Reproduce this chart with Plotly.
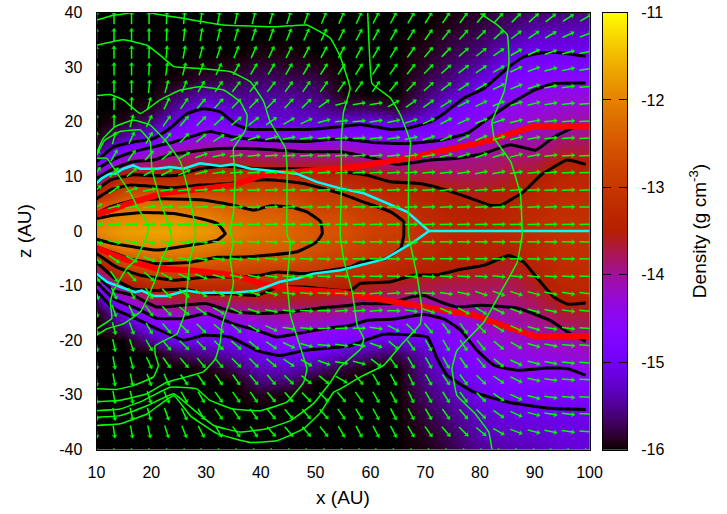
import math
import numpy as np
import plotly.graph_objects as go

FONT = "Liberation Sans, Arial, sans-serif"
x_ticks = [10, 20, 30, 40, 50, 60, 70, 80, 90, 100]
z_ticks = [-40, -30, -20, -10, 0, 10, 20, 30, 40]
z_tick_text = ["-40", "-30", "-20", "-10", "0", "10", "20", "30", "40"]
cb_ticks = [-16, -15, -14, -13, -12, -11]
cb_tick_text = ["-16", "-15", "-14", "-13", "-12", "-11"]

# density grid: columns at x = 10, 15 ... 100; rows at z = 40, 37.5 ... -40
grid_x = [10, 15, 20, 25, 30, 35, 40, 45, 50, 55, 60, 65, 70, 75, 80, 85, 90, 95, 100]
grid_z = [40, 37.5, 35, 32.5, 30, 27.5, 25, 22.5, 20, 17.5, 15, 12.5, 10, 7.5, 5, 2.5, 0,
          -2.5, -5, -7.5, -10, -12.5, -15, -17.5, -20, -22.5, -25, -27.5, -30, -32.5, -35, -37.5, -40]
rho_x010 = [-16,-16,-16,-16,-16,-16,-16,-16,-16,-16,-15.6,-14.95,-14.1,-13.5,-12.8,-12.15,-11.95,-12.3,-13.25,-13.9,-14.65,-15.5,-16,-16,-16,-16,-16,-16,-16,-16,-16,-16,-16]
rho_x015 = [-16,-16,-16,-16,-16,-16,-16,-16,-15.9,-15.5,-14.8,-14.1,-13.35,-12.8,-12.3,-11.95,-11.75,-11.95,-12.5,-13.1,-13.7,-14.35,-15,-15.6,-16,-16,-16,-16,-16,-16,-16,-16,-16]
rho_x020 = [-16,-16,-16,-16,-16,-16,-16,-15.9,-15.6,-15.1,-14.4,-13.9,-13.4,-12.75,-12.2,-11.9,-11.7,-11.9,-12.3,-12.8,-13.3,-13.8,-14.3,-14.9,-15.5,-16,-16,-16,-16,-16,-16,-16,-16]
rho_x025 = [-16,-16,-16,-16,-16,-15.95,-15.7,-15.4,-15,-14.6,-14.15,-13.75,-13.3,-12.85,-12.25,-11.9,-11.7,-11.9,-12.25,-12.75,-13.25,-13.7,-14.1,-14.65,-15,-15.7,-16,-16,-16,-16,-16,-16,-16]
rho_x030 = [-16,-16,-16,-16,-15.95,-15.8,-15.4,-15,-14.75,-14.45,-14,-13.65,-13.25,-12.8,-12.3,-12,-11.8,-12,-12.35,-12.75,-13.25,-13.75,-14.35,-14.75,-15.1,-15.5,-15.95,-16,-16,-16,-16,-16,-16]
rho_x035 = [-16,-16,-16,-16,-15.9,-15.75,-15.55,-15.3,-15.05,-14.55,-14,-13.6,-13.2,-12.85,-12.5,-12.25,-12.05,-12.25,-12.5,-12.85,-13.25,-13.7,-14.15,-14.6,-15,-15.35,-15.7,-16,-16,-16,-16,-16,-16]
rho_x040 = [-16,-16,-16,-15.95,-15.8,-15.65,-15.5,-15.35,-15.2,-14.7,-14,-13.65,-13.1,-12.8,-12.55,-12.35,-12.2,-12.35,-12.55,-12.9,-13.25,-13.65,-14,-14.45,-14.75,-15.05,-15.3,-15.6,-15.9,-16,-16,-16,-16]
rho_x045 = [-16,-16,-16,-15.95,-15.85,-15.7,-15.5,-15.35,-15.2,-14.75,-14.05,-13.75,-13.2,-12.85,-12.6,-12.4,-12.3,-12.4,-12.55,-12.95,-13.3,-13.65,-13.95,-14.25,-14.55,-14.95,-15.3,-15.65,-16,-16,-16,-16,-16]
rho_x050 = [-16,-16,-16,-16,-15.9,-15.75,-15.6,-15.45,-15.25,-14.75,-14.1,-13.7,-13.35,-13,-12.85,-12.65,-12.5,-12.55,-12.75,-13,-13.35,-13.65,-13.95,-14.3,-14.65,-15,-15.55,-16,-16,-16,-16,-16,-16]
rho_x055 = [-16,-16,-16,-16,-16,-16,-15.95,-15.7,-15.2,-14.65,-14.1,-13.7,-13.4,-13.1,-12.85,-12.7,-12.6,-12.7,-12.9,-13.2,-13.45,-13.75,-14,-14.45,-14.85,-15.3,-15.8,-16,-16,-16,-16,-16,-16]
rho_x060 = [-16,-16,-16,-16,-16,-16,-16,-15.7,-15.1,-14.7,-14.25,-13.85,-13.5,-13.25,-13,-12.9,-12.8,-12.9,-13,-13.25,-13.55,-13.85,-14.25,-14.65,-15,-15.55,-16,-16,-16,-16,-16,-16,-16]
rho_x065 = [-16,-16,-16,-16,-16,-16,-16,-15.85,-15.3,-14.75,-14.35,-14,-13.65,-13.4,-13.2,-13,-12.9,-13,-13.2,-13.4,-13.65,-13.9,-14.3,-14.75,-15.2,-15.7,-16,-16,-16,-16,-16,-16,-16]
rho_x070 = [-16,-16,-15.95,-15.9,-15.85,-15.75,-15.65,-15.45,-15.1,-14.7,-14.25,-13.95,-13.65,-13.45,-13.35,-13.25,-13.2,-13.25,-13.35,-13.5,-13.7,-14,-14.4,-14.75,-15.05,-15.3,-15.45,-15.55,-15.65,-15.75,-15.85,-15.9,-15.95]
rho_x075 = [-15.95,-15.9,-15.8,-15.75,-15.65,-15.55,-15.3,-14.95,-14.75,-14.5,-14.2,-13.95,-13.75,-13.55,-13.45,-13.4,-13.35,-13.4,-13.45,-13.55,-13.75,-13.9,-14.3,-14.6,-14.7,-14.85,-15,-15.2,-15.35,-15.5,-15.6,-15.7,-15.75]
rho_x080 = [-15.85,-15.8,-15.7,-15.6,-15.4,-15.15,-14.9,-14.75,-14.5,-14.3,-14.05,-13.9,-13.75,-13.6,-13.5,-13.45,-13.35,-13.4,-13.45,-13.6,-13.75,-13.9,-14.1,-14.25,-14.45,-14.6,-14.75,-14.9,-15.05,-15.2,-15.3,-15.4,-15.5]
rho_x085 = [-15.75,-15.65,-15.45,-15.2,-15,-14.85,-14.65,-14.45,-14.3,-14.15,-13.95,-13.8,-13.65,-13.5,-13.4,-13.35,-13.3,-13.4,-13.55,-13.65,-13.8,-13.9,-14.05,-14.15,-14.25,-14.4,-14.5,-14.7,-14.9,-15.1,-15.2,-15.3,-15.4]
rho_x090 = [-15.65,-15.45,-15.2,-15,-14.8,-14.65,-14.45,-14.35,-14.25,-14.1,-14,-13.75,-13.5,-13.4,-13.3,-13.25,-13.2,-13.3,-13.35,-13.5,-13.6,-13.75,-13.9,-14.05,-14.2,-14.35,-14.5,-14.65,-14.85,-15,-15.15,-15.25,-15.35]
rho_x095 = [-15.6,-15.4,-15.2,-15,-14.75,-14.55,-14.4,-14.25,-14.1,-13.95,-13.7,-13.45,-13.35,-13.25,-13.2,-13.15,-13.1,-13.15,-13.2,-13.25,-13.35,-13.5,-13.65,-13.85,-14.1,-14.3,-14.5,-14.65,-14.8,-15,-15.1,-15.15,-15.2]
rho_x100 = [-15.55,-15.35,-15.15,-15,-14.8,-14.55,-14.35,-14.2,-14.05,-13.9,-13.7,-13.55,-13.35,-13.25,-13.2,-13.15,-13.1,-13.15,-13.2,-13.25,-13.3,-13.45,-13.65,-13.8,-14,-14.2,-14.4,-14.6,-14.8,-15,-15.1,-15.15,-15.2]
rho_columns = [rho_x010, rho_x015, rho_x020, rho_x025, rho_x030, rho_x035, rho_x040, rho_x045, rho_x050, rho_x055,
               rho_x060, rho_x065, rho_x070, rho_x075, rho_x080, rho_x085, rho_x090, rho_x095, rho_x100]

# black density contours, upper and lower half
c150u_x = [10,13.1,16.7,20.4,23.4,26.5,29.5,32.6,35.6,38.1,42.9,48.4,54.5,58.2,63.7,66.7,71,73.4,77,80.7,85,88,91,94.1,99.3]
c150u_z = [12.7,15.4,16.3,16.9,18.8,21.5,22.4,21.8,19.4,18.6,18.6,18.6,19.1,19.5,18.6,18.8,20,21.5,24.3,26.1,29.8,31.9,32.6,32.7,32]
c145u_x = [10,13.1,16.7,20.4,24.1,27.1,30.7,35,40.5,48.4,54.5,60.6,66.7,72.8,77.7,80.7,85,89.9,93.5,99.3]
c145u_z = [11.3,13.1,14.5,15.4,16.3,17.2,18.2,17.2,16.6,16.4,16.9,16.2,16,16.6,17.9,20,23,25.8,27,27.1]
c140u_x = [10,13.1,16.7,20.4,23.4,27.1,32.6,37.5,42.9,48.4,54.5,60.6,64.9,71,75.8,80.7,85.6,90.2,93.5,97.2,99.3]
c140u_z = [9.6,11.4,12.7,13,13.9,14.5,15.1,15.1,14.8,14.5,14.5,13.3,12.2,13,13.3,14.2,15.8,14.8,17.2,19,19.2]
c135u_x = [10,12.5,16.7,21,24.7,28.9,33.2,39.3,47.8,54.5,59.4,63.7,69.1,72.8,77.7,81.9,83.8,88,91.1,95.9,99.3]
c135u_z = [7.5,9.3,10.3,10.1,10.2,11.4,11.9,11.4,11.4,10.9,10.2,9,8.7,7.8,6.2,4.7,4.7,7.2,10.2,13,12.2]
c130_x = [10,12.5,16.1,24.1,28.9,34.4,38.7,42.9,47.8,54.5,58.8,63.7,66.1,66.1,66.1,65.5,62.7,58.2,56.3,47.8,42.9,39.9,35,30.1,24.1,18,13.7,10]
c130_z = [5.9,7.5,8.4,7.9,8.4,8.7,9.3,9.3,8.7,6.9,5.3,3.5,1.7,0,-0.8,-3.2,-5.1,-5.7,-6.6,-7.8,-7.5,-8.1,-8.4,-8.4,-9,-8.1,-6.6,-4.1]
c125_x = [10,12.5,16.7,22.2,30.1,35,38.7,41.7,45.4,48.4,50.9,51.2,51.2,50.2,46.6,40.5,35,32,27.1,21,16.1,12.5,10]
c125_z = [3.2,4.4,5.6,5.9,5.6,4.7,3.8,4.6,4.4,3.5,1.7,0,-0.5,-2,-3.8,-4.5,-4.8,-4.8,-5.7,-6,-5.1,-3.8,-2.9]
c120_x = [10,13.1,18.6,24.1,28.9,32,33.2,33.5,32,27.1,21,16.7,13.1,10]
c120_z = [2.3,2.9,3.4,3.2,2.3,1.4,0,-0.5,-1.7,-2.6,-3.5,-2.9,-2.3,-1.5]
c135l_x = [10,13.7,16.7,21,25.9,30.1,35,39.3,43,48.4,56.3,58.2,63.7,67.9,72.2,76.5,80.7,85.3,88,90.5,93.5,96,99.3]
c135l_z = [-5.7,-9,-10.6,-10.9,-10.6,-11.5,-11.5,-11.8,-10.3,-10.3,-10.9,-9.6,-9.3,-8.1,-8,-7,-6.3,-4.5,-5.7,-8.7,-12.1,-13.4,-13.2]
c140l_x = [10,13.1,16.7,21,25.9,30.1,35,40.5,45.4,51.5,56.3,58.2,63.7,67.3,69.8,72.8,75.8,80.1,86.8,92.9,96,99.3]
c140l_z = [-8.1,-10.9,-11.8,-13.9,-13.6,-13.3,-14.8,-15.1,-14.8,-14,-13.6,-13.3,-13.3,-12.1,-11.8,-13,-13.9,-13.6,-14.1,-16.4,-18.5,-20.2]
c145l_x = [10,13.1,17.4,21,25.9,30.1,35,39.3,42.9,46.6,51.5,56.3,59.4,64.3,69.8,73.4,76.5,79.5,82.6,86.8,92.3,96,99.3]
c145l_z = [-9.3,-12.4,-14.2,-16,-16,-15.1,-17,-18.2,-19.4,-18.8,-17.9,-17.3,-16.4,-16.1,-15.3,-16.1,-18.2,-21.9,-24.6,-25.5,-25.1,-25.2,-26.4]
c150l_x = [10,13.1,18,21,25.9,29.5,34.4,39.3,43.5,47.8,56.3,58.2,62.4,66.7,70.4,72.2,74,78.9,85,92.3,99.3]
c150l_z = [-10.9,-14.2,-16.4,-17.9,-20,-19.1,-19.4,-21.9,-22.8,-21.9,-21,-20.3,-18.9,-19,-19.4,-23.4,-26.4,-29.5,-31.3,-32.4,-32.7]
black_lines = [(c150u_x,c150u_z),(c145u_x,c145u_z),(c140u_x,c140u_z),(c135u_x,c135u_z),(c130_x,c130_z),(c125_x,c125_z),
               (c120_x,c120_z),(c135l_x,c135l_z),(c140l_x,c140l_z),(c145l_x,c145l_z),(c150l_x,c150l_z)]

# red lines
red_u_x = [10,13.1,16.7,22.2,30.1,35,41,45.4,51.5,54.5,66.7,74.6,81.9,89.9,100]
red_u_z = [3,4.1,5.3,6.9,7.8,8.4,10.5,10.8,11.1,11.4,13.3,15.1,16.6,19.2,19.2]
red_l_x = [10,14.9,21,27.1,35,39.9,45.4,54.5,69.8,78.9,85,89.9,100]
red_l_z = [-3.1,-5.1,-6.9,-7.2,-8.1,-9.6,-10.6,-11.2,-13.9,-15.4,-17.6,-19.2,-19.2]

# cyan lines
cyan_u_x = [10,10.9,11.9,12.5,13.4,14.9,16.7,18,21,23.4,25.9,28.9,32.6,35,38.1,41.7,46.6,50.2,54.5,58.8,66.7,70.7,100]
cyan_u_z = [8.7,9.6,10.2,10.5,10.5,11.4,12,11.4,11.4,11.7,11.4,12.4,11.9,12.2,11.4,11,10.5,9,7.8,6.9,3.5,0,0]
cyan_l_x = [10,11.9,14.3,17,18.3,20.4,22.8,26.5,28.9,35,39.3,43.5,46.6,49.6,54.5,62.7,67.9,70.7]
cyan_l_z = [-7.8,-9.3,-10.2,-11.2,-10.9,-11.9,-11.9,-10.9,-11.3,-11.3,-10.9,-9.3,-8.7,-7.8,-7.2,-5.1,-2,0]

# green field lines
g1_x = [10,11.9,14,16.4,17.6,19.5,19.2,17.3,15.5,13.1,12.5,12.8,10]
g1_z = [13.3,13.3,10.2,6.6,4.1,1.05,-0.8,-5.1,-6.9,-10.9,-13,-16,-17.9]
g2_x = [10,11.5,14.3,18,19.8,20.1,20.7,21.9,23.4,23.7,21.9,21,19.8,18,14.9,11.9,10]
g2_z = [13.9,16.6,18.2,18.5,16.3,11.4,9,4.7,0.4,-1.4,-5.1,-8.1,-11.2,-14.8,-17,-17.9,-19.1]
g3_x = [10,11.2,13.4,16.7,19.8,22.8,25.3,26.8,28,28,27.1,26.5,26.2,24.7,20.7,20.7,21.3,20.4,16.7,13.7,10]
g3_z = [14.2,16.9,19.1,20.3,19.4,16.3,12.7,7.2,0.8,-1.4,-5.1,-11.2,-14.8,-18.8,-21,-22.5,-24.6,-26.7,-28.3,-29,-28.9]
g4_x = [10,12.5,14.9,18,21.6,25.3,28.9,33.2,36.2,37.5,37.2,35,35.3,35,34.4,35,34.4,35,34.4,32.9,32.6,31.7,29.5,22.8,19.2,14.3,10]
g4_z = [24.8,25,24,21.5,24,25.8,26.4,25.8,23.7,21.2,18.5,15.1,9.6,3.5,-0.2,-2,-5,-9.3,-12.4,-17.3,-20.3,-23.4,-25.8,-27.7,-29.8,-31,-31.3]
g5_x = [10,14.9,19.2,21.6,24.1,28.3,34.4,38.1,40.5,41.7,44.5,44.8,44.8,45.4,44.8,45.4,46.9,48.4,47.8,44.8,39.9,35,30.7,28.3,23.4,18.6,14.3,10]
g5_z = [34,35,34,32.2,30.1,29.8,29.2,27.3,23.7,20,15.1,10.8,-0.8,-2,-9.3,-15.4,-20.3,-25.2,-27.7,-31.3,-32.9,-32.6,-31,-28.9,-28.6,-31,-32.6,-32.9]
g6_x = [10,13.1,15.5,17.6,20.4,25.9,33.2,42.9,48.4,52.7,54.5,56.3,55.1,54.7,54.7,54.5,55.1,56.7,57.6,58.8,58.2,54.5,52.7,49.6,45.4,41.1,36.2,31.4,27.1,24.1,19.2,14.3,10]
g6_z = [38.6,39.5,39.8,40.5,39.8,38.9,37.7,37.4,37.7,35.3,31.9,26.1,21.8,17,7.8,-0.8,-5.1,-11.2,-17.3,-19.7,-21.6,-24.9,-27.7,-31.6,-34.7,-36.2,-36.8,-35.6,-32.2,-29.8,-32,-33.8,-34.1]
g7_x = [59.5,59.7,60.3,63.7,65.5,67.3,67,67,68.5,69.4,69.1,65.5,62.4,58.2,54.5,53.3,50.9,47.8,42.9,38.1,32,27.1,24.1,19.2,14.3,10]
g7_z = [40.2,35.3,27,24.3,21.2,16.3,12,-0.8,-8.1,-14.2,-17,-21,-24.6,-26.7,-28.9,-29.5,-33.2,-36.2,-38.4,-38.7,-37.1,-33.8,-30.1,-33.5,-35.3,-35.6]
g8_x = [80.1,83.2,85,85.3,84.4,82.2,82.6,85.6,87.4,87.7,86.8,83.8,80.7,75.8,74.9,75.8,78.9,81.6,82.2]
g8_z = [39.8,37.7,35.9,31,25.5,20,17,12.7,6.6,-0.8,-5.7,-11.2,-16.7,-21.9,-25.2,-30.1,-33.2,-36.8,-40]
green_lines = [(g1_x,g1_z),(g2_x,g2_z),(g3_x,g3_z),(g4_x,g4_z),(g5_x,g5_z),(g6_x,g6_z),(g7_x,g7_z),(g8_x,g8_z)]

# arrows: position grid and direction in degrees, read row by row from the top
arrow_x = [10,13.2,16.4,19.6,22.8,26,29.1,32.3,35.5,38.7,41.9,45.1,48.3,51.5,54.7,57.9,61,64.2,67.4,70.6,73.8,77,80.2,83.4,86.6,89.8,92.9,96.1,99.3]
arrow_z = [39,35.9,32.7,29.6,26.4,23.3,20.1,17,13.8,10.7,7.5,4.4,1.2,-2,-5.1,-8.3,-11.4,-14.6,-17.8,-20.9,-24.1,-27.2,-30.4,-33.5,-36.7,-39.9]
arrow_len = [12.5]*25 + [1.5]
a01 = [90,90,90,90,88,85,82,80,78,76,74,72,70,68,66,65,63,62,60,58,56,54,50,48,45,42,38,33,30]
a02 = [90,90,90,90,88,84,80,76,74,72,70,68,66,65,64,63,62,60,58,55,52,48,45,42,38,35,30,25,20]
a03 = [90,90,90,88,85,80,75,72,68,66,65,64,63,62,62,62,60,58,55,50,46,42,38,35,30,25,20,15,10]
a04 = [90,90,90,88,82,76,70,65,62,60,60,60,60,58,58,58,58,55,52,46,42,38,34,30,25,20,15,12,8]
a05 = [90,90,90,85,75,68,60,55,52,52,52,54,55,55,55,55,55,50,46,42,38,34,30,26,22,18,12,8,5]
a06 = [90,90,88,75,65,55,50,48,46,46,46,48,45,35,15,10,10,30,35,35,32,28,25,22,18,15,10,6,4]
a07 = [90,90,75,65,55,50,45,42,40,38,35,30,25,15,6,5,8,12,18,25,28,25,22,18,14,10,6,4,3]
a08 = [85,75,65,60,50,45,40,32,25,18,14,10,8,5,3,3,5,8,12,18,24,26,22,18,14,10,6,4,3]
a09 = [65,60,55,48,40,30,20,12,8,5,4,3,3,3,3,3,3,5,8,10,14,16,20,18,14,10,6,4,3]
a10 = [55,48,40,30,28,22,15,8,5,4,4,4,4,3,3,3,3,3,4,5,6,8,10,10,8,6,4,3,2]
a11 = [45,35,20,12,8,6,5,4,4,3,3,3,3,2,2,2,2,3,3,3,4,4,5,5,4,3,3,2,2]
a12 = [30,15,10,7,5,4,3,3,2,2,2,2,2,2,1,1,1,2,2,2,2,2,2,2,2,2,2,1,1]
a13 = [5,4,3,3,3,3,2,2,2,1,1,1,1,1,1,1,1,1,1,1,1,1,1,1,1,1,1,1,1]
a14 = [-15,-12,-10,-8,-6,-5,-4,-4,-3,-3,-3,-3,-2,-2,-2,-2,-1,-1,-1,-1,-1,-1,-1,-1,-1,-1,-1,-1,-1]
a15 = [-45,-35,-28,-22,-15,-12,-10,-8,-6,-5,-5,-4,-3,-3,-2,-2,-1,-1,-1,0,0,0,0,-1,-1,-1,-1,-1,-1]
a16 = [-60,-55,-48,-42,-30,-25,-22,-15,-12,-10,-8,-5,-3,-3,-2,-1,0,-2,-3,-3,-4,-4,-4,-5,-5,-5,-4,-3,-2]
a17 = [-72,-65,-60,-55,-45,-38,-30,-25,-20,-18,-14,-8,-4,-2,-1,0,4,5,3,-3,-8,-12,-18,-20,-18,-15,-12,-10,-6]
a18 = [-80,-70,-65,-55,-45,-40,-35,-30,-25,-18,-12,-6,-3,0,4,5,5,0,-8,-18,-24,-28,-30,-26,-20,-16,-12,-8,-5]
a19 = [-80,-75,-70,-60,-50,-45,-45,-40,-40,-30,-25,-10,-4,2,2,0,-8,-28,-44,-50,-54,-55,-46,-32,-25,-16,-10,-6,-4]
a20 = [-80,-78,-72,-60,-50,-45,-45,-45,-40,-40,-35,-25,-15,-6,-8,-10,-20,-40,-54,-60,-60,-56,-50,-40,-30,-16,-10,-6,-4]
a21 = [-85,-80,-75,-65,-55,-50,-50,-50,-45,-45,-40,-35,-30,-20,-8,-14,-38,-54,-60,-60,-60,-55,-50,-40,-25,-15,-10,-6,-4]
a22 = [-85,-80,-78,-70,-65,-55,-55,-55,-55,-50,-50,-45,-40,-40,-30,-50,-60,-62,-64,-60,-56,-54,-45,-35,-25,-12,-8,-5,-3]
a23 = [-85,-80,-78,-72,-65,-60,-60,-55,-55,-55,-50,-50,-45,-45,-50,-55,-60,-62,-64,-60,-58,-54,-45,-35,-25,-15,-8,-5,-3]
a24 = [-85,-80,-78,-75,-70,-65,-60,-55,-55,-55,-50,-50,-50,-48,-55,-60,-62,-63,-62,-60,-55,-50,-45,-35,-25,-15,-10,-6,-4]
a25 = [-85,-82,-80,-78,-72,-68,-62,-60,-55,-55,-50,-50,-50,-52,-60,-62,-62,-62,-60,-55,-50,-45,-40,-30,-20,-15,-12,-8,-5]
a26 = [-90]*29
arrow_rows = [a01,a02,a03,a04,a05,a06,a07,a08,a09,a10,a11,a12,a13,a14,a15,a16,a17,a18,a19,a20,a21,a22,a23,a24,a25,a26]

# gnuplot default palette (rgbformulae 7,5,15)
def pal(t):
    r = math.sqrt(t); g = t**3; b = max(0.0, math.sin(2*math.pi*t))
    return f"rgb({round(r*255)},{round(g*255)},{round(b*255)})"
colorscale = [[i/255, pal(i/255)] for i in range(256)]

W, H = 727, 514
L, R, T, B = 96.5, 589.5, 12.5, 449.5
sx = (R-L)/90; sz = (B-T)/80

rho = np.array(rho_columns).T
fig = go.Figure()
fig.add_trace(go.Heatmap(x=grid_x, y=grid_z, z=rho, zmin=-16, zmax=-11, colorscale=colorscale,
                         zsmooth="best", showscale=False, hoverinfo="skip"))
for lx, lz in black_lines:
    fig.add_trace(go.Scatter(x=lx, y=lz, mode="lines", line=dict(color="black", width=3, shape="spline", smoothing=0.4), hoverinfo="skip"))
for lx, lz in [(red_u_x, red_u_z), (red_l_x, red_l_z)]:
    fig.add_trace(go.Scatter(x=lx, y=lz, mode="lines", line=dict(color="#ff0000", width=6), hoverinfo="skip"))
for lx, lz in [(cyan_u_x, cyan_u_z), (cyan_l_x, cyan_l_z)]:
    fig.add_trace(go.Scatter(x=lx, y=lz, mode="lines", line=dict(color="#00ffff", width=2.5), hoverinfo="skip"))

ax, az, hx, hz, ha, hs = [], [], [], [], [], []
for zv, row, ln in zip(arrow_z, arrow_rows, arrow_len):
    for xv, deg in zip(arrow_x, row):
        c, s = math.cos(math.radians(deg)), math.sin(math.radians(deg))
        ax += [xv - ln/2*c/sx, xv + ln/2*c/sx, None]
        az += [zv - ln/2*s/sz, zv + ln/2*s/sz, None]
        hx.append(xv + (ln/2-1.5)*c/sx)
        hz.append(zv + (ln/2-1.5)*s/sz)
        ha.append(90-deg)
        hs.append(5 if ln > 3 else 0)
fig.add_trace(go.Scatter(x=ax, y=az, mode="lines", line=dict(color="#00ff00", width=1.5), hoverinfo="skip"))
fig.add_trace(go.Scatter(x=hx, y=hz, mode="markers", hoverinfo="skip",
                         marker=dict(symbol="triangle-up", size=hs, angle=ha, color="#00ff00", line=dict(width=0))))
for lx, lz in green_lines:
    fig.add_trace(go.Scatter(x=lx, y=lz, mode="lines", line=dict(color="#00ff00", width=1.5, shape="spline", smoothing=0.3), hoverinfo="skip"))

# colour key as a small heatmap on its own axes
key_levels = [-16 + 5*i/300 for i in range(301)]
fig.add_trace(go.Heatmap(x=[0, 1], y=key_levels, z=[[v, v] for v in key_levels], zmin=-16, zmax=-11,
                         colorscale=colorscale, showscale=False, hoverinfo="skip", xaxis="x2", yaxis="y2"))

font = dict(family=FONT, size=16, color="black")
fig.update_layout(
    width=W, height=H, showlegend=False, paper_bgcolor="white", plot_bgcolor="black", font=font,
    margin=dict(l=0, r=0, t=0, b=0, autoexpand=False),
    xaxis=dict(domain=[L/W, R/W], anchor="y", range=[10, 100], tickvals=x_ticks, ticks="", showgrid=False, zeroline=False, automargin=False,
               showline=True, linecolor="black", linewidth=1, mirror=True, ticklabelstandoff=8,
               title=dict(text="x (AU)", standoff=10)),
    yaxis=dict(domain=[1-B/H, 1-T/H], anchor="x", range=[-40, 40], tickvals=z_ticks, ticktext=z_tick_text, ticks="", showgrid=False, automargin=False,
               zeroline=False, showline=True, linecolor="black", linewidth=1, mirror=True, ticklabelstandoff=10,
               title=dict(text="z (AU)", standoff=22)),
    xaxis2=dict(domain=[603/W, 627/W], anchor="y2", range=[0, 1], showticklabels=False, ticks="", showgrid=False, zeroline=False, automargin=False,
                showline=True, linecolor="black", linewidth=1, mirror=True),
    yaxis2=dict(domain=[1-B/H, 1-T/H], anchor="x2", side="right", range=[-16, -11], tickvals=cb_ticks, ticktext=cb_tick_text, automargin=False,
                ticks="inside", ticklen=8, tickcolor="black", tickwidth=1, showgrid=False, zeroline=False,
                showline=True, linecolor="black", linewidth=1, mirror="ticks", ticklabelstandoff=10,
                title=dict(text="Density (g cm<sup>-3</sup>)", standoff=29)),
)
fig.write_html("out.html", config={"displayModeBar": False}, post_script="document.body.style.margin='0';")
